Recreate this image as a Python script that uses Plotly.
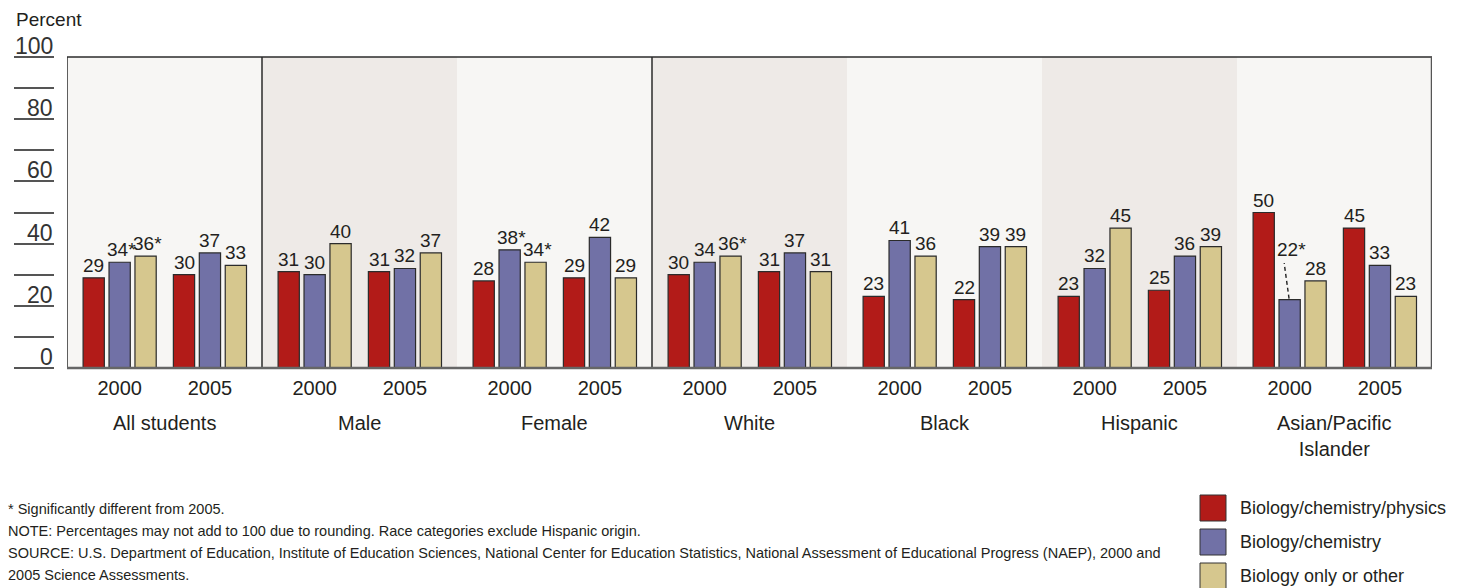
import plotly.graph_objects as go

# ---------------- data ----------------
categories = ["All students", "Male", "Female", "White", "Black", "Hispanic",
              "Asian/Pacific<br>Islander"]
years = ["2000", "2005"]
series_names = ["Biology/chemistry/physics", "Biology/chemistry", "Biology only or other"]

# order: for each category -> 2000, 2005
bio_chem_phys = [29, 30, 31, 31, 28, 29, 30, 31, 23, 22, 23, 25, 50, 45]
bio_chem = [34, 37, 30, 32, 38, 42, 34, 37, 41, 39, 32, 36, 22, 33]
bio_only = [36, 33, 40, 37, 34, 29, 36, 31, 36, 39, 45, 39, 28, 23]

# significance flags (* Significantly different from 2005)
bio_chem_phys_sig = [0, 0, 0, 0, 0, 0, 0, 0, 0, 0, 0, 0, 0, 0]
bio_chem_sig = [1, 0, 0, 0, 1, 0, 0, 0, 0, 0, 0, 0, 1, 0]
bio_only_sig = [1, 0, 0, 0, 1, 0, 1, 0, 0, 0, 0, 0, 0, 0]

y_ticks_labeled = [0, 20, 40, 60, 80, 100]

# ---------------- style ----------------
FONT = "Liberation Sans, Arial, sans-serif"
TXT = "#231f20"
colors = ["#b21b18", "#7171a6", "#d6c78e"]
panel_bg = ["#f7f6f4", "#eeeae7"]

W, H = 1459, 588
ML, MR, MT, MB = 54, 27, 57, 220
GAP = 13  # gap between tick marks and plot
paper_w = W - ML - MR
plot_h = H - MT - MB

group_offsets = [0.27, 0.733]
bar_step = 0.133
bar_w = 0.109

values = [bio_chem_phys, bio_chem, bio_only]
sigs = [bio_chem_phys_sig, bio_chem_sig, bio_only_sig]

fig = go.Figure()
annotations = []
shapes = []

n_cat = len(categories)
for k, (name, vals, sg) in enumerate(zip(series_names, values, sigs)):
    xs = []
    for i, v in enumerate(vals):
        p, g = divmod(i, 2)
        xs.append(p + group_offsets[g] + (k - 1) * bar_step)
    fig.add_trace(go.Bar(
        x=xs, y=vals, width=bar_w, name=name,
        marker=dict(color=colors[k], line=dict(color="#2b2b2b", width=1.2)),
        showlegend=False, hoverinfo="skip",
    ))
    for i, (x, v, s) in enumerate(zip(xs, vals, sg)):
        label = f"{v}*" if s else f"{v}"
        ylab = v
        # callout for the short Asian/Pacific Islander 2000 bar
        if k == 1 and i == 12:
            ylab = v + 12
            shapes.append(dict(type="line", xref="x", yref="y",
                               x0=x - 0.003, y0=v + 0.3, x1=x - 0.028, y1=ylab - 0.3,
                               line=dict(color="#222", width=1.4, dash="4px,3px")))
        annotations.append(dict(
            x=x, y=ylab, xref="x", yref="y", text=label,
            showarrow=False, yanchor="bottom", xanchor="center",
            xshift=2 if s else 0, yshift=0,
            font=dict(family=FONT, size=19, color=TXT)))

# panel backgrounds
for p in range(n_cat):
    shapes.append(dict(type="rect", xref="x", yref="paper", x0=p, x1=p + 1, y0=0, y1=1,
                       fillcolor=panel_bg[p % 2], line=dict(width=0), layer="below"))
# divider lines between groups of categories
for xd in [1, 3]:
    shapes.append(dict(type="line", xref="x", yref="paper", x0=xd, x1=xd, y0=0, y1=1,
                       line=dict(color="#2b2b2b", width=1.5)))
# plot frame
shapes.append(dict(type="line", xref="x", yref="paper", x0=0, x1=n_cat, y0=1, y1=1,
                   line=dict(color="#2b2b2b", width=1.5)))
shapes.append(dict(type="line", xref="x", yref="paper", x0=0, x1=0, y0=0, y1=1,
                   line=dict(color="#2b2b2b", width=1.5)))
shapes.append(dict(type="line", xref="x", yref="paper", x0=n_cat, x1=n_cat, y0=0, y1=1,
                   line=dict(color="#555", width=2.5)))
shapes.append(dict(type="line", xref="x", yref="paper", x0=0, x1=n_cat, y0=0, y1=0,
                   line=dict(color="#666", width=2.5)))

# year tick labels and category labels
tickvals, ticktext = [], []
for p in range(n_cat):
    for g in range(2):
        tickvals.append(p + group_offsets[g])
        ticktext.append(years[g])
    annotations.append(dict(x=p + 0.5, y=0, xref="x", yref="paper", text=categories[p],
                            showarrow=False, yanchor="top", yshift=-42,
                            font=dict(family=FONT, size=20, color=TXT)))

# y tick labels (sitting above tick lines)
for t in y_ticks_labeled:
    annotations.append(dict(x=0, xref="paper", y=t, yref="y", text=str(t),
                            showarrow=False, xanchor="right", yanchor="bottom",
                            xshift=1, yshift=-4,
                            font=dict(family=FONT, size=23, color="#333")))
annotations.append(dict(x=(14 - ML) / paper_w, xref="paper", y=1, yref="paper", yshift=25,
                        text="Percent", showarrow=False, xanchor="left", yanchor="bottom",
                        font=dict(family=FONT, size=19, color=TXT)))

# footnotes
foot = [
    "* Significantly different from 2005.",
    "NOTE: Percentages may not add to 100 due to rounding. Race categories exclude Hispanic origin.",
    "SOURCE: U.S. Department of Education, Institute of Education Sciences, National Center for Education Statistics, National Assessment of Educational Progress (NAEP), 2000 and",
    "2005 Science Assessments.",
]
foot_y = [509, 531, 553, 575]
for line, yy in zip(foot, foot_y):
    annotations.append(dict(x=(6 - ML) / paper_w, xref="paper", y=(H - MB - yy) / plot_h,
                            yref="paper", text=line, showarrow=False, xanchor="left",
                            yanchor="middle", font=dict(family=FONT, size=14.5, color=TXT)))

# legend (custom swatches)
leg_y = [508, 542, 576]
for name, col, yy in zip(series_names, colors, leg_y):
    shapes.append(dict(type="rect", xref="paper", yref="paper",
                       x0=(1200 - ML) / paper_w, x1=(1226 - ML) / paper_w,
                       y0=(H - MB - (yy + 13)) / plot_h, y1=(H - MB - (yy - 13)) / plot_h,
                       fillcolor=col, line=dict(color="#333", width=1)))
    annotations.append(dict(x=(1238 - ML) / paper_w, xref="paper",
                            y=(H - MB - yy) / plot_h, yref="paper", text=name,
                            showarrow=False, xanchor="left", yanchor="middle",
                            font=dict(family=FONT, size=18, color=TXT)))

fig.update_layout(
    width=W, height=H,
    margin=dict(l=ML, r=MR, t=MT, b=MB, pad=0, autoexpand=False),
    paper_bgcolor="white", plot_bgcolor=panel_bg[0],
    barmode="overlay",
    font=dict(family=FONT, color=TXT),
    xaxis=dict(domain=[GAP / paper_w, 1], range=[0, n_cat], showgrid=False, zeroline=False,
               tickvals=tickvals, ticktext=ticktext, ticks="", automargin=False,
               ticklabelstandoff=6,
               tickfont=dict(family=FONT, size=20, color=TXT), showline=False,
               fixedrange=True),
    yaxis=dict(range=[0, 100], anchor="free", position=0, showgrid=False, zeroline=False,
               tickvals=list(range(0, 101, 10)), ticks="outside", ticklen=40,
               tickwidth=2, tickcolor="#555", showticklabels=False, showline=False,
               automargin=False, fixedrange=True),
    showlegend=False,
    shapes=shapes, annotations=annotations,
)

fig.write_html("out.html", config={"displayModeBar": False},
               post_script="document.body.style.margin='0';")
